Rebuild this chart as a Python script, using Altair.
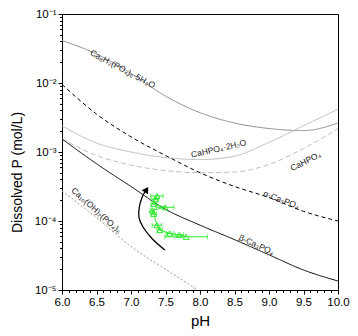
import altair as alt
import pandas as pd

# ---------------- data ----------------
ph = [6.0, 6.5, 7.0, 7.5, 8.0, 8.5, 9.0, 9.5, 10.0]
ocp_log = [-1.384, -1.58, -1.86, -2.19, -2.43, -2.58, -2.66, -2.69, -2.58]
dcpd_log = [-2.62, -2.87, -3.00, -3.08, -3.11, -3.06, -2.86, -2.62, -2.38]
dcpa_log = [-2.81, -3.05, -3.19, -3.27, -3.30, -3.29, -3.18, -2.95, -2.66]
atcp_log = [-2.02, -2.45, -2.78, -3.05, -3.30, -3.50, -3.66, -3.86, -4.00]
btcp_log = [-2.81, -3.17, -3.50, -3.83, -4.06, -4.27, -4.49, -4.71, -4.87]
hap_ph = [6.0, 6.5, 7.0, 7.5, 7.97]
hap_log = [-3.565, -3.95, -4.37, -4.70, -5.0]

curve_names = ["OCP", "DCPD", "DCPA", "aTCP", "bTCP", "HAP"]
curve_colors = ["#8c8c8c", "#bdbdbd", "#bdbdbd", "#000000", "#000000", "#9a9a9a"]
curve_dashes = [[1, 0], [1, 0], [5, 3], [4, 3], [1, 0], [2, 2]]

arrow_ph = [7.49, 7.30, 7.17, 7.116, 7.12, 7.16, 7.20]
arrow_log = [-4.42, -4.25, -4.08, -3.95, -3.80, -3.66, -3.58]
head_ph = [7.225]
head_log = [-3.545]
head_angle = [32]

data_ph = [7.376, 7.352, 7.329, 7.494, 7.305, 7.329, 7.376, 7.418, 7.56, 7.70, 7.80]
data_p = [2.31e-4, 2.07e-4, 1.76e-4, 1.58e-4, 1.42e-4, 1.27e-4, 8.7e-5, 7.4e-5, 6.6e-5, 6.3e-5, 5.9e-5]
data_err = [0.09, 0.05, 0.04, 0.13, 0.03, 0.04, 0.07, 0.04, 0.05, 0.06, 0.31]

label_text = ["Ca₈H₂(PO₄)₆·5H₂O", "CaHPO₄·2H₂O", "CaHPO₄", "α-Ca₃PO₄", "β-Ca₃PO₄", "Ca₁₀(OH)₂(PO₄)₆"]
label_ph = [6.88, 8.27, 9.53, 9.18, 8.82, 6.50]
label_p = [0.0160, 1.125e-3, 7.35e-4, 2.04e-4, 4.54e-5, 1.43e-4]
label_angle = [28, 347, 333, 21, 25, 42]

x_major = [6.0, 6.5, 7.0, 7.5, 8.0, 8.5, 9.0, 9.5, 10.0]
x_minor = [round(6 + i * 0.1, 1) for i in range(41) if i % 5 != 0]
y_major = [1e-5, 1e-4, 1e-3, 1e-2, 1e-1]
y_minor = [m * 10 ** e for e in range(-5, -1) for m in range(2, 10)]

# ---------------- tables ----------------
rows = []
for name, vals in zip(curve_names[:5], [ocp_log, dcpd_log, dcpa_log, atcp_log, btcp_log]):
    for i, (x, v) in enumerate(zip(ph, vals)):
        rows.append({"curve": name, "pH": x, "P": 10 ** v, "i": i})
for i, (x, v) in enumerate(zip(hap_ph, hap_log)):
    rows.append({"curve": "HAP", "pH": x, "P": 10 ** v, "i": i})
curves = pd.DataFrame(rows)

arrow = pd.DataFrame({"pH": arrow_ph, "P": [10 ** v for v in arrow_log], "i": range(len(arrow_ph))})
head = pd.DataFrame({"pH": head_ph, "P": [10 ** v for v in head_log], "a": head_angle})
pts = pd.DataFrame({"pH": data_ph, "P": data_p, "err": data_err, "i": range(len(data_ph))})
pts["lo"] = pts["pH"] - pts["err"]
pts["hi"] = pts["pH"] + pts["err"]
labels = pd.DataFrame({"t": label_text, "pH": label_ph, "P": label_p, "a": label_angle})

FONT = "Liberation Sans"
xs = alt.Scale(domain=[6, 10], nice=False)
ys = alt.Scale(type="log", domain=[1e-5, 1e-1], nice=False)
GREEN = "#2ee82e"


def X(field):
    return alt.X(field, scale=xs, axis=None)


def Y(field):
    return alt.Y(field, scale=ys, axis=None)


x_axis = alt.Axis(values=x_major, format=".1f", tickSize=4, labelFontSize=11.5, labelFont=FONT,
                  labelColor="black", labelPadding=2, title="pH", titleFont=FONT, titleFontSize=15,
                  titleFontWeight="normal", titleColor="black", titlePadding=6, grid=False,
                  domainColor="black", tickColor="black", orient="bottom", labelFlush=False)
y_axis = alt.Axis(values=y_major, tickSize=4, labelFontSize=11.5, labelFont=FONT, labelColor="black",
                  labelPadding=2, grid=False, domainColor="black", tickColor="black", orient="left",
                  labelExpr="'10' + ['⁻¹','⁻²','⁻³','⁻⁴','⁻⁵'][round(-log(datum.value)/LN10)-1]",
                  title="Dissolved P (mol/L)", titleFont=FONT, titleFontSize=14, titleFontWeight="normal",
                  titleColor="black", titleX=-45, titleY=158, titleAngle=270, titleAlign="center",
                  titleBaseline="middle", labelFlush=False)

lines = alt.Chart(curves).mark_line(strokeWidth=1, interpolate="monotone", clip=True).encode(
    x=alt.X("pH:Q", scale=xs, axis=x_axis),
    y=alt.Y("P:Q", scale=ys, axis=y_axis),
    detail="curve:N",
    order="i:Q",
    color=alt.Color("curve:N", scale=alt.Scale(domain=curve_names, range=curve_colors), legend=None),
    strokeDash=alt.StrokeDash("curve:N", scale=alt.Scale(domain=curve_names, range=curve_dashes), legend=None),
)

minor = alt.Chart(curves).mark_point(opacity=0).encode(
    x=alt.X("pH:Q", scale=xs, axis=alt.Axis(values=x_minor, labels=False, domain=False, tickSize=2.5,
                                           tickColor="black", grid=False, title=None, orient="bottom")),
    y=alt.Y("P:Q", scale=ys, axis=alt.Axis(values=y_minor, labels=False, domain=False, tickSize=2.5,
                                          tickColor="black", grid=False, title=None, orient="left")),
)

arrow_line = alt.Chart(arrow).mark_line(color="black", strokeWidth=1.3, interpolate="catmull-rom").encode(
    x=X("pH:Q"), y=Y("P:Q"), order="i:Q")
arrow_head = alt.Chart(head).mark_point(shape="triangle-up", filled=True, color="black", size=55, opacity=1).encode(
    x=X("pH:Q"), y=Y("P:Q"), angle=alt.Angle("a:Q", scale=None))

gline = alt.Chart(pts).mark_line(color=GREEN, strokeWidth=1).encode(
    x=X("pH:Q"), y=Y("P:Q"), order="i:Q")
gbars = alt.Chart(pts).mark_rule(color=GREEN, strokeWidth=1).encode(
    x=X("lo:Q"), x2="hi:Q", y=Y("P:Q"))
gcap_lo = alt.Chart(pts).mark_tick(color=GREEN, orient="vertical", size=5, thickness=1).encode(
    x=X("lo:Q"), y=Y("P:Q"))
gcap_hi = alt.Chart(pts).mark_tick(color=GREEN, orient="vertical", size=5, thickness=1).encode(
    x=X("hi:Q"), y=Y("P:Q"))
gpts = alt.Chart(pts).mark_point(shape="triangle-up", filled=False, color=GREEN, size=35, strokeWidth=1, opacity=1).encode(
    x=X("pH:Q"), y=Y("P:Q"))

texts = alt.Chart(labels).mark_text(font=FONT, fontSize=8.5, color="#222222", align="center", baseline="middle").encode(
    x=X("pH:Q"), y=Y("P:Q"), text="t:N", angle=alt.Angle("a:Q", scale=None))

chart = alt.layer(lines, minor, arrow_line, arrow_head, gline, gbars, gcap_lo, gcap_hi, gpts, texts).resolve_axis(
    x="independent", y="independent"
).properties(
    width=276, height=276,
    autosize=alt.AutoSizeParams(type="none"),
    padding={"left": 54, "top": 6, "right": 12, "bottom": 40},
).configure_view(stroke="black", strokeWidth=1)

chart.save("out.html", embed_options={"renderer": "svg", "actions": False})
